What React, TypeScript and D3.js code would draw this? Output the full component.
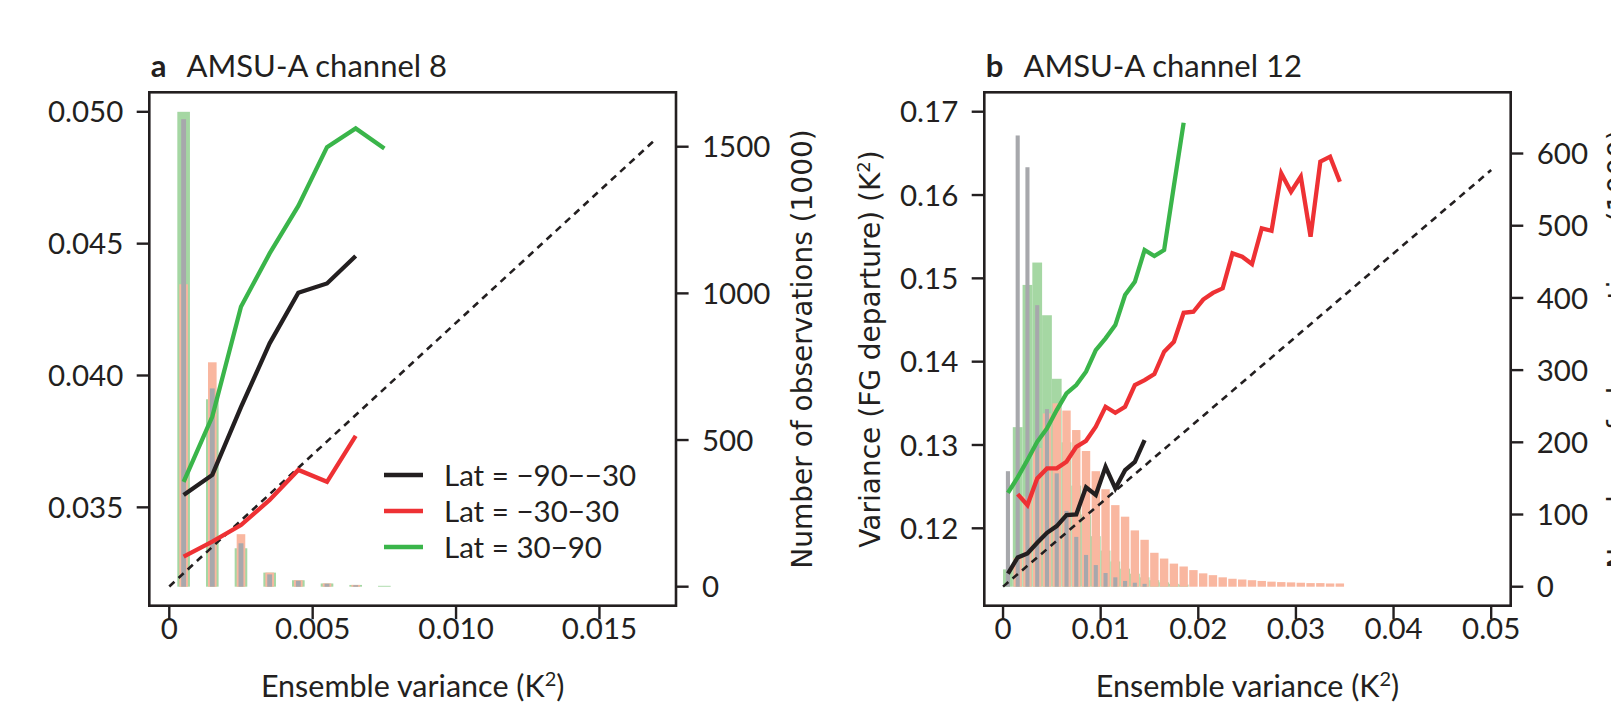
import React from 'react';
import * as d3 from 'd3';

// ---------- Panel a: AMSU-A channel 8 ----------
const binsA = [0.0005, 0.0015, 0.0025, 0.0035, 0.0045, 0.0055, 0.0065, 0.0075];
const countA_south = [1594, 676, 148, 42, 20, 10, 5];
const countA_tropics = [1031, 765, 179, 48, 22, 11, 6];
const countA_north = [1619, 639, 131, 48, 22, 11, 6, 3];
const fgA_south = [0.03547, 0.03623, 0.0388, 0.04122, 0.04314, 0.04349, 0.04453];
const fgA_tropics = [0.03313, 0.0337, 0.03433, 0.03528, 0.03642, 0.03597, 0.03771];
const fgA_north = [0.03597, 0.03844, 0.04261, 0.04463, 0.04643, 0.04866, 0.04937, 0.04861];
const xTicksA = [0, 0.005, 0.01, 0.015];
const xTickLabelsA = ['0', '0.005', '0.010', '0.015'];
const yTicksA = [0.035, 0.04, 0.045, 0.05];
const yTickLabelsA = ['0.035', '0.040', '0.045', '0.050'];
const rTicksA = [0, 500, 1000, 1500];
const diagA = { x0: 0, x1: 0.017, offset: 0.032 };

// ---------- Panel b: AMSU-A channel 12 ----------
const binsB = [0.0005, 0.0015, 0.0025, 0.0035, 0.0045, 0.0055, 0.0065, 0.0075, 0.0085, 0.0095,
  0.0105, 0.0115, 0.0125, 0.0135, 0.0145, 0.0155, 0.0165, 0.0175, 0.0185, 0.0195,
  0.0205, 0.0215, 0.0225, 0.0235, 0.0245, 0.0255, 0.0265, 0.0275, 0.0285, 0.0295,
  0.0305, 0.0315, 0.0325, 0.0335, 0.0345];
const countB_south = [160, 625, 581, 390, 246, 157, 105, 69, 44, 30, 19, 13, 8, 5.5, 4];
const countB_tropics = [0, 40, 125, 192, 240, 254, 244, 217, 188, 160, 135, 113, 97, 78, 65, 47, 39, 32,
  28, 23, 18.5, 16, 13, 11, 10, 9, 8, 7, 6.4, 6, 5.5, 5, 5, 4.5, 4.5];
const countB_north = [24, 221, 418, 449, 376, 288, 200, 140, 100, 70, 50, 35, 25, 18, 13, 9, 6, 4, 3];
const fgB_south = [0.11456, 0.1165, 0.11699, 0.11826, 0.11946, 0.12026, 0.12158, 0.12167, 0.12491,
  0.12399, 0.12738, 0.12479, 0.12698, 0.12798, 0.13059];
const fgB_tropics: (number | null)[] = [null, 0.12411, 0.12279, 0.12599, 0.12719, 0.12719, 0.12799, 0.12978,
  0.1305, 0.13219, 0.13459, 0.13387, 0.13459, 0.13719, 0.13779, 0.13851, 0.14119, 0.14239, 0.14587,
  0.14599, 0.14745, 0.14825, 0.1488, 0.153, 0.1526, 0.15172, 0.156, 0.15571, 0.1626, 0.1604, 0.1622,
  0.155, 0.164, 0.1646, 0.1616];
const fgB_north = [0.12426, 0.12611, 0.12819, 0.13038, 0.13199, 0.13419, 0.13619, 0.13719, 0.13879,
  0.14139, 0.1428, 0.14439, 0.148, 0.14959, 0.1534, 0.15268, 0.1534, 0.1611, 0.16868];
const xTicksB = [0, 0.01, 0.02, 0.03, 0.04, 0.05];
const xTickLabelsB = ['0', '0.01', '0.02', '0.03', '0.04', '0.05'];
const yTicksB = [0.12, 0.13, 0.14, 0.15, 0.16, 0.17];
const yTickLabelsB = ['0.12', '0.13', '0.14', '0.15', '0.16', '0.17'];
const rTicksB = [0, 100, 200, 300, 400, 500, 600];
const diagB = { x0: 0, x1: 0.05, offset: 0.113 };

const legendLabels = ['Lat = \u221290\u2212\u221230', 'Lat = \u221230\u221230', 'Lat = 30\u221290'];

const C = {
  ink: '#231f20',
  black: '#231f20',
  red: '#ee3134',
  green: '#3ab54a',
  barGreen: '#a5d7a3',
  barSalmon: '#f9b7a0',
  barGray: '#a7a8ac',
};
const FONT = 'Lato, "Open Sans", sans-serif';
const FONT_Y = '"DejaVu Sans", Verdana, sans-serif';

type PanelProps = {
  letter: string;
  title: string;
  box: [number, number, number, number]; // left, top, right, bottom
  xDomain: [number, number];
  yDomain: [number, number];
  rDomain: [number, number];
  bins: number[];
  binW: number;
  barW: { green: number; salmon: number; gray: number };
  counts: { south: number[]; tropics: number[]; north: number[] };
  fg: { south: (number | null)[]; tropics: (number | null)[]; north: (number | null)[] };
  xTicks: number[]; xTickLabels: string[];
  yTicks: number[]; yTickLabels: string[];
  rTicks: number[];
  diag: { x0: number; x1: number; offset: number };
  leftTitle?: string;
  leftTitleX?: number;
  rightTitleX: number;
  legend?: boolean;
};

function Panel(p: PanelProps) {
  const [L, T, R, B] = p.box;
  const x = d3.scaleLinear().domain(p.xDomain).range([L, R]);
  const y = d3.scaleLinear().domain(p.yDomain).range([B, T]);
  const yr = d3.scaleLinear().domain(p.rDomain).range([B, T]);
  const binPx = x(p.binW) - x(0);

  const bars = (vals: number[], frac: number, color: string) =>
    vals.map((v, i) => {
      const w = binPx * frac;
      const cx = x(p.bins[i]);
      return (
        <rect key={i} x={cx - w / 2} y={yr(v)} width={w} height={Math.max(0, yr(0) - yr(v))} fill={color} />
      );
    });

  const line = d3
    .line<number | null>()
    .defined((d) => d != null)
    .x((_, i) => x(p.bins[i]))
    .y((d) => y(d as number));

  const fs = 29.5;
  const titleY = 77;
  const cx = (L + R) / 2;
  const cy = (T + B) / 2;

  return (
    <g>
      {/* title */}
      <text x={L + 1.5} y={titleY} fontFamily={FONT} fontSize={31} fill={C.ink}>
        <tspan fontWeight="bold">{p.letter}</tspan>
        <tspan dx={20}>{p.title}</tspan>
      </text>

      {/* bars */}
      <g>{bars(p.counts.north, p.barW.green, C.barGreen)}</g>
      <g>{bars(p.counts.tropics, p.barW.salmon, C.barSalmon)}</g>
      <g>{bars(p.counts.south, p.barW.gray, C.barGray)}</g>

      {/* diagonal */}
      <line
        x1={x(p.diag.x0)} y1={y(p.diag.x0 + p.diag.offset)}
        x2={x(p.diag.x1)} y2={y(p.diag.x1 + p.diag.offset)}
        stroke={C.ink} strokeWidth={2.6} strokeDasharray="7,5.5"
      />

      {/* lines */}
      <path d={line(p.fg.south) || ''} fill="none" stroke={C.black} strokeWidth={4.3} strokeLinejoin="miter" />
      <path d={line(p.fg.tropics) || ''} fill="none" stroke={C.red} strokeWidth={4.3} strokeLinejoin="miter" />
      <path d={line(p.fg.north) || ''} fill="none" stroke={C.green} strokeWidth={4.3} strokeLinejoin="miter" />

      {/* box */}
      <rect x={L} y={T} width={R - L} height={B - T} fill="none" stroke={C.ink} strokeWidth={2.6} />

      {/* x ticks */}
      {p.xTicks.map((t, i) => (
        <g key={i}>
          <line x1={x(t)} x2={x(t)} y1={B} y2={B + 13.5} stroke={C.ink} strokeWidth={2.4} />
          <text x={x(t)} y={B + 33} textAnchor="middle" fontFamily={FONT} fontSize={fs} fill={C.ink}>
            {p.xTickLabels[i]}
          </text>
        </g>
      ))}
      {/* left y ticks */}
      {p.yTicks.map((t, i) => (
        <g key={i}>
          <line x1={L - 12.6} x2={L} y1={y(t)} y2={y(t)} stroke={C.ink} strokeWidth={2.4} />
          <text x={L - 26} y={y(t) + 10.6} textAnchor="end" fontFamily={FONT} fontSize={fs} fill={C.ink}>
            {p.yTickLabels[i]}
          </text>
        </g>
      ))}
      {/* right y ticks */}
      {p.rTicks.map((t, i) => (
        <g key={i}>
          <line x1={R} x2={R + 12.6} y1={yr(t)} y2={yr(t)} stroke={C.ink} strokeWidth={2.4} />
          <text x={R + 26} y={yr(t) + 10.6} textAnchor="start" fontFamily={FONT} fontSize={fs} fill={C.ink}>
            {String(t)}
          </text>
        </g>
      ))}

      {/* x title */}
      <text x={cx} y={697} textAnchor="middle" fontFamily={FONT} fontSize={30.5} fill={C.ink}>
        Ensemble variance (K<tspan dy={-11} fontSize={20}>2</tspan><tspan dy={11}>)</tspan>
      </text>

      {/* left title */}
      {p.leftTitle && (
        <text transform={`translate(${p.leftTitleX},${cy}) rotate(-90)`} textAnchor="middle"
          fontFamily={FONT_Y} fontSize={28} fill={C.ink}>
          {p.leftTitle} (K<tspan dy={-10} fontSize={18}>2</tspan><tspan dy={10}>)</tspan>
        </text>
      )}
      {/* right title */}
      <text transform={`translate(${p.rightTitleX},${cy}) rotate(-90)`} textAnchor="middle"
        fontFamily={FONT_Y} fontSize={28} fill={C.ink}>
        Number of observations (1000)
      </text>

      {/* legend */}
      {p.legend &&
        [C.black, C.red, C.green].map((col, i) => {
          const ly = 475 + i * 36;
          return (
            <g key={i}>
              <line x1={384} x2={423} y1={ly} y2={ly} stroke={col} strokeWidth={4.6} />
              <text x={444} y={ly + 10.6} fontFamily={FONT} fontSize={fs} fill={C.ink}>
                {legendLabels[i]}
              </text>
            </g>
          );
        })}
    </g>
  );
}

export default function App() {
  return (
    <svg
      width={1611}
      height={713}
      style={{ position: 'absolute', left: 0, top: 0, background: '#fff' }}
    >
      <Panel
        letter="a"
        title="AMSU-A channel 8"
        box={[149.3, 92.3, 676, 605.7]}
        xDomain={[-0.000697, 0.01767]}
        yDomain={[0.03127, 0.05074]}
        rDomain={[-64.8, 1685.5]}
        bins={binsA}
        binW={0.001}
        barW={{ green: 0.44, salmon: 0.3, gray: 0.17 }}
        counts={{ south: countA_south, tropics: countA_tropics, north: countA_north }}
        fg={{ south: fgA_south, tropics: fgA_tropics, north: fgA_north }}
        xTicks={xTicksA} xTickLabels={xTickLabelsA}
        yTicks={yTicksA} yTickLabels={yTickLabelsA}
        rTicks={rTicksA}
        diag={diagA}
        rightTitleX={812}
        legend
      />
      <Panel
        letter="b"
        title="AMSU-A channel 12"
        box={[984.3, 92.3, 1510.7, 605.7]}
        xDomain={[-0.00192, 0.052]}
        yDomain={[0.11071, 0.17233]}
        rDomain={[-26.3, 684.8]}
        bins={binsB}
        binW={0.001}
        barW={{ green: 1.0, salmon: 0.86, gray: 0.42 }}
        counts={{ south: countB_south, tropics: countB_tropics, north: countB_north }}
        fg={{ south: fgB_south, tropics: fgB_tropics, north: fgB_north }}
        xTicks={xTicksB} xTickLabels={xTickLabelsB}
        yTicks={yTicksB} yTickLabels={yTickLabelsB}
        rTicks={rTicksB}
        diag={diagB}
        leftTitle="Variance (FG departure)"
        leftTitleX={880}
        rightTitleX={1628}
      />
    </svg>
  );
}
